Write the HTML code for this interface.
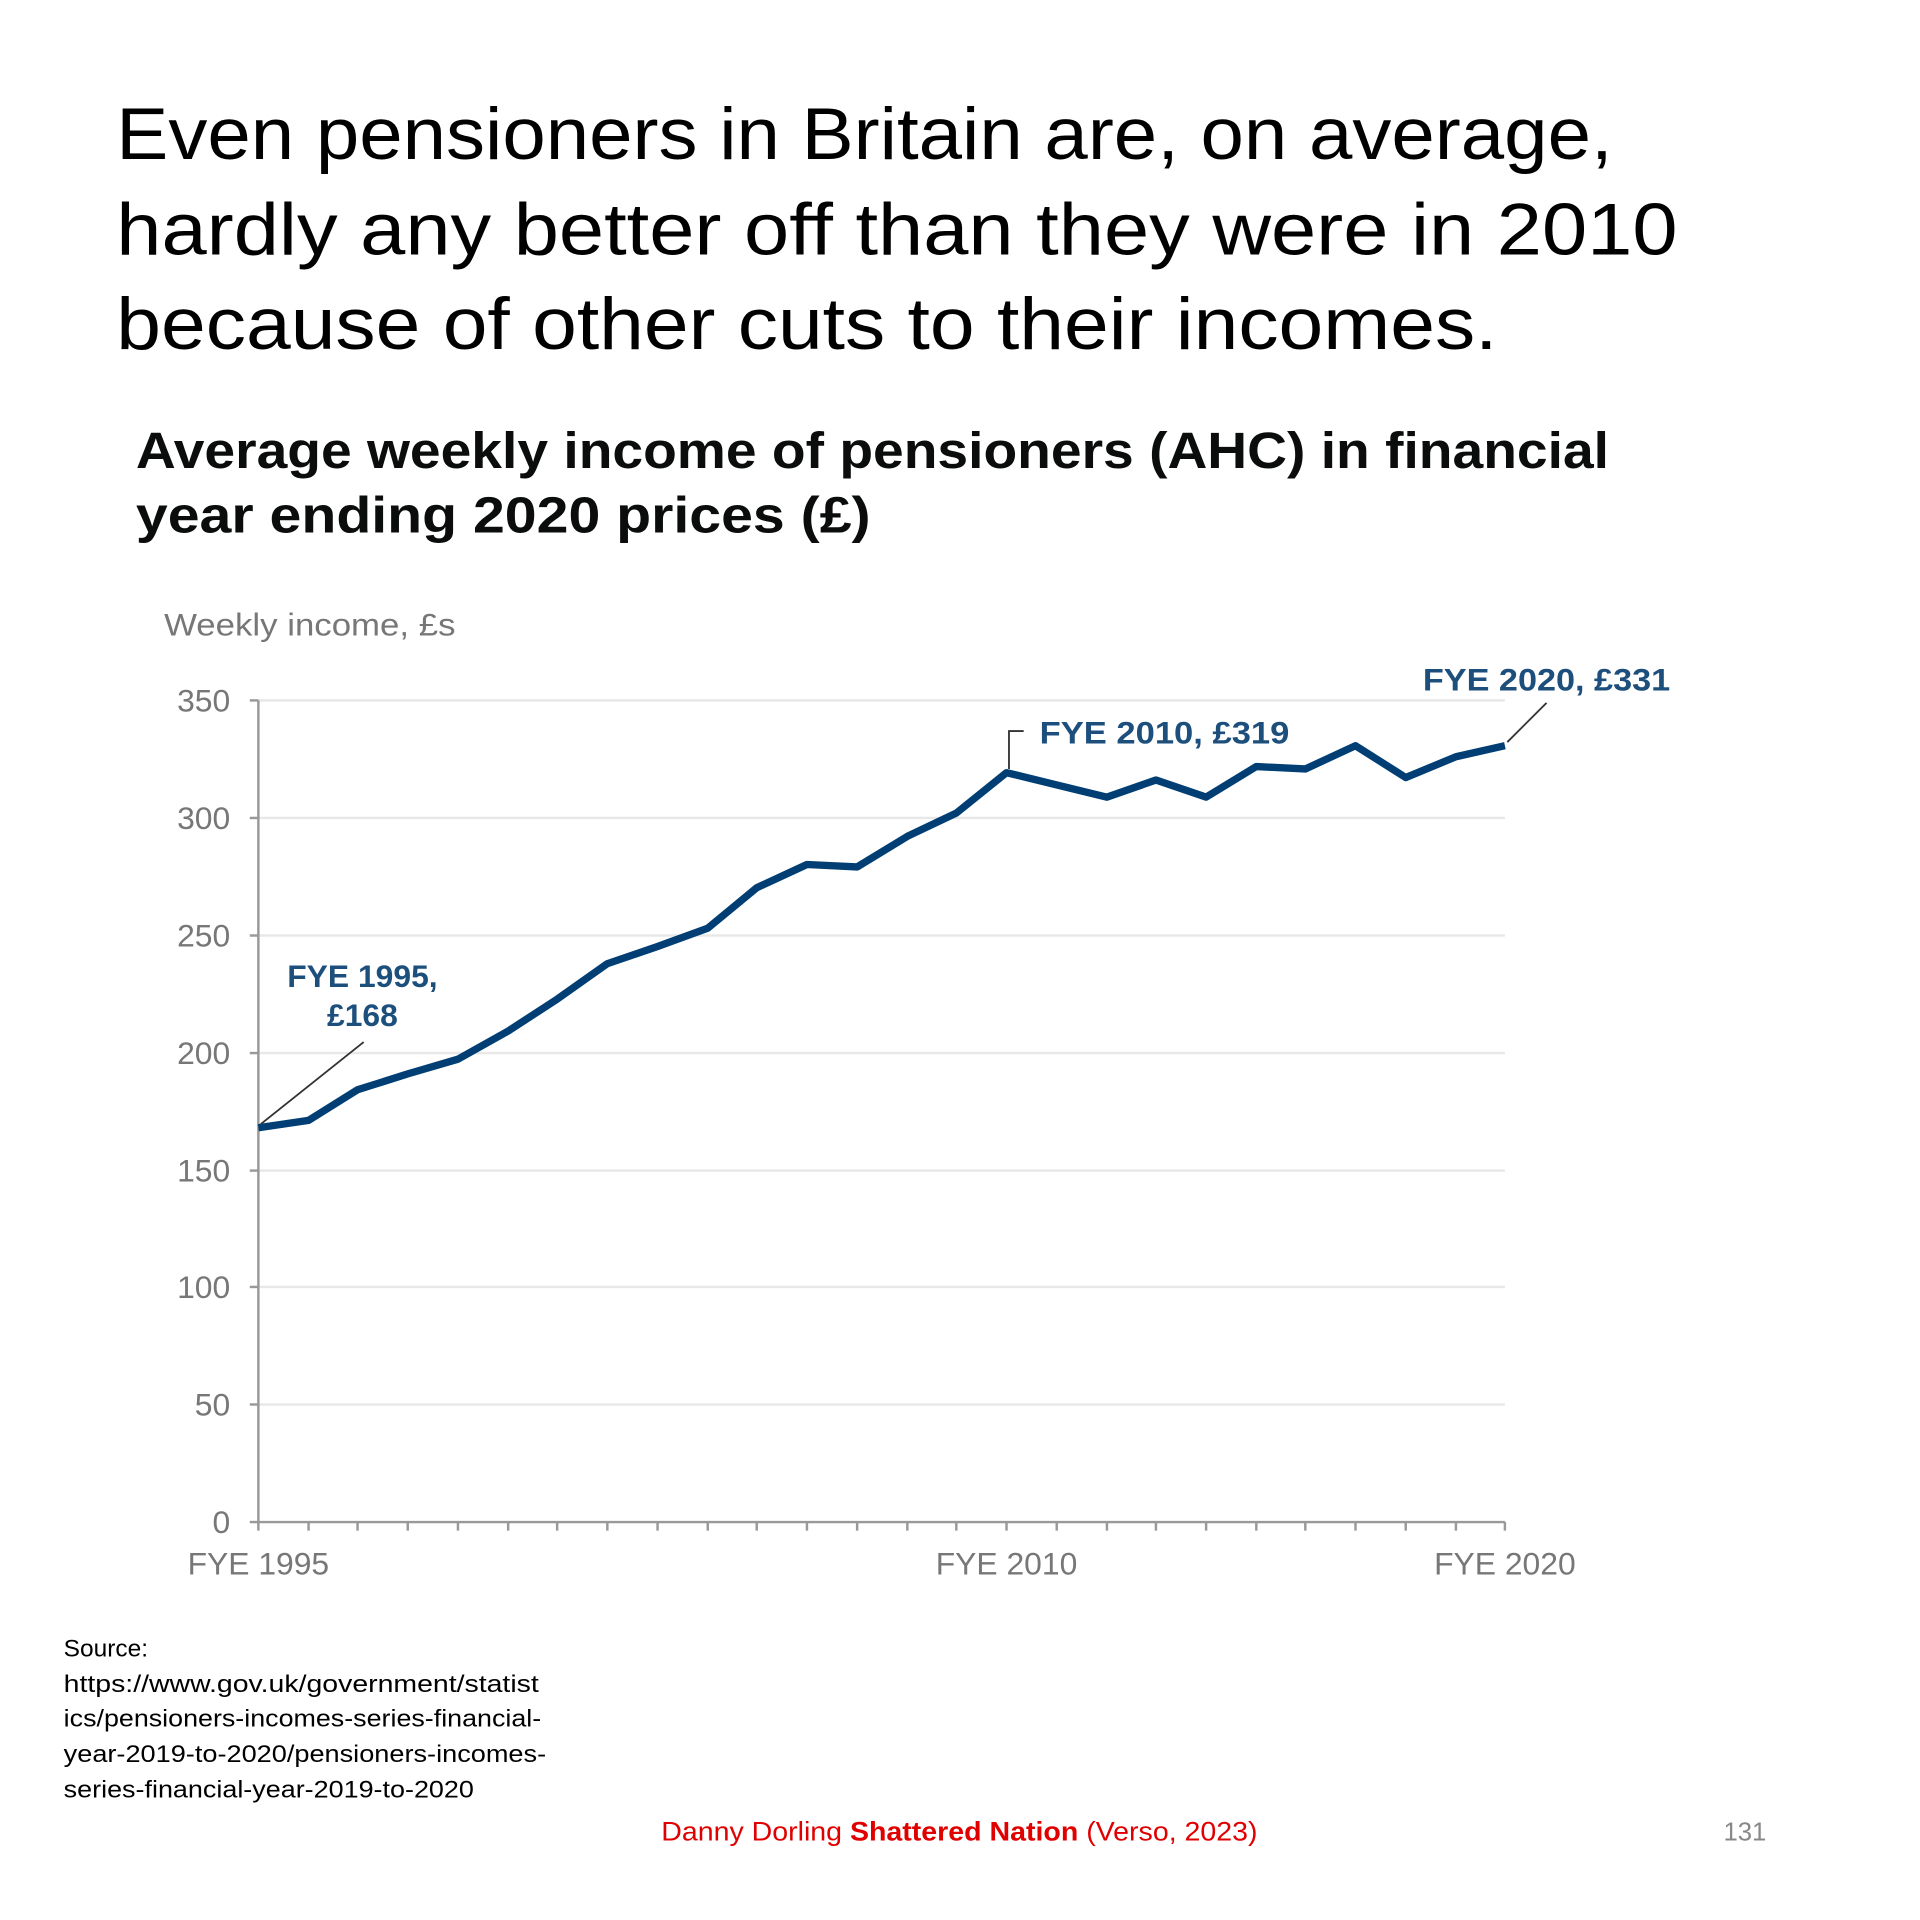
<!DOCTYPE html>
<html><head><meta charset="utf-8"><style>html,body{margin:0;padding:0;background:#fff}svg{display:block}</style></head>
<body>
<svg width="1920" height="1920" viewBox="0 0 1568 1568" xmlns="http://www.w3.org/2000/svg" font-family="Liberation Sans, sans-serif">
<rect width="1568" height="1568" fill="#fff"/>
<g font-size="60" fill="#000">
<text x="95" y="130" textLength="1222" lengthAdjust="spacingAndGlyphs">Even pensioners in Britain are, on average,</text>
<text x="95" y="208" textLength="1275" lengthAdjust="spacingAndGlyphs">hardly any better off than they were in 2010</text>
<text x="95" y="285" textLength="1128" lengthAdjust="spacingAndGlyphs">because of other cuts to their incomes.</text>
</g>
<g font-size="42" font-weight="bold" fill="#0b0c0c">
<text x="111" y="382" textLength="1203" lengthAdjust="spacingAndGlyphs">Average weekly income of pensioners (AHC) in financial</text>
<text x="111" y="435" textLength="600" lengthAdjust="spacingAndGlyphs">year ending 2020 prices (£)</text>
</g>
<text x="134" y="519" font-size="26" fill="#777" textLength="238" lengthAdjust="spacingAndGlyphs">Weekly income, £s</text>
<g stroke="#e8e8e8" stroke-width="2">
<line x1="211" y1="572" x2="1229" y2="572"/><line x1="211" y1="668" x2="1229" y2="668"/>
<line x1="211" y1="764" x2="1229" y2="764"/><line x1="211" y1="860" x2="1229" y2="860"/>
<line x1="211" y1="956" x2="1229" y2="956"/><line x1="211" y1="1051" x2="1229" y2="1051"/>
<line x1="211" y1="1147" x2="1229" y2="1147"/>
</g>
<g stroke="#999" stroke-width="2">
<line x1="211" y1="572" x2="211" y2="1243"/>
<line x1="211" y1="1243" x2="1229" y2="1243"/>
<line x1="204" y1="572" x2="211" y2="572"/><line x1="204" y1="668" x2="211" y2="668"/><line x1="204" y1="764" x2="211" y2="764"/><line x1="204" y1="860" x2="211" y2="860"/><line x1="204" y1="956" x2="211" y2="956"/><line x1="204" y1="1051" x2="211" y2="1051"/><line x1="204" y1="1147" x2="211" y2="1147"/><line x1="204" y1="1243" x2="211" y2="1243"/>
<path d="M211 1243v7M252 1243v7M292 1243v7M333 1243v7M374 1243v7M415 1243v7M455 1243v7M496 1243v7M537 1243v7M578 1243v7M618 1243v7M659 1243v7M700 1243v7M741 1243v7M781 1243v7M822 1243v7M863 1243v7M904 1243v7M944 1243v7M985 1243v7M1026 1243v7M1066 1243v7M1107 1243v7M1148 1243v7M1189 1243v7M1229 1243v7"/>
</g>
<g font-size="26" fill="#777" text-anchor="end">
<text x="188" y="581">350</text><text x="188" y="677">300</text><text x="188" y="773">250</text><text x="188" y="869">200</text><text x="188" y="965">150</text><text x="188" y="1060">100</text><text x="188" y="1156">50</text><text x="188" y="1252">0</text>
</g>
<g font-size="26" fill="#777" text-anchor="middle">
<text x="211" y="1286">FYE 1995</text><text x="822" y="1286">FYE 2010</text><text x="1229" y="1286">FYE 2020</text>
</g>
<polyline fill="none" stroke="#003e74" stroke-width="6" stroke-linejoin="round" points="211,921 252,915 292,890 333,877 374,865 415,842 455,816 496,787 537,773 578,758 618,725 659,706 700,708 741,683 781,664 822,631 863,641 904,651 944,637 985,651 1026,626 1066,628 1107,609 1148,635 1189,618 1229,609"/>
<g stroke="#333" stroke-width="1.5" fill="none">
<line x1="297" y1="851" x2="213" y2="918"/>
<polyline points="836,597 824,597 824,628"/>
<line x1="1263" y1="574" x2="1231" y2="606"/>
</g>
<g font-size="26" font-weight="bold" fill="#1d4f7c">
<text x="296" y="806" text-anchor="middle">FYE 1995,</text>
<text x="296" y="838" text-anchor="middle">£168</text>
<text x="849" y="607" textLength="204" lengthAdjust="spacingAndGlyphs">FYE 2010, £319</text>
<text x="1162" y="564" textLength="202" lengthAdjust="spacingAndGlyphs">FYE 2020, £331</text>
</g>
<g font-size="20" fill="#000">
<text x="52" y="1353">Source:</text>
<text x="52" y="1382" textLength="388" lengthAdjust="spacingAndGlyphs">https://www.gov.uk/government/statist</text>
<text x="52" y="1410" textLength="390" lengthAdjust="spacingAndGlyphs">ics/pensioners-incomes-series-financial-</text>
<text x="52" y="1439" textLength="394" lengthAdjust="spacingAndGlyphs">year-2019-to-2020/pensioners-incomes-</text>
<text x="52" y="1468" textLength="335" lengthAdjust="spacingAndGlyphs">series-financial-year-2019-to-2020</text>
</g>
<text x="540" y="1503" font-size="22" fill="#e00000" textLength="487" lengthAdjust="spacingAndGlyphs">Danny Dorling <tspan font-weight="bold">Shattered Nation</tspan> (Verso, 2023)</text>
<text x="1425" y="1503" font-size="21" fill="#888" text-anchor="middle">131</text>
</svg>
</body></html>
